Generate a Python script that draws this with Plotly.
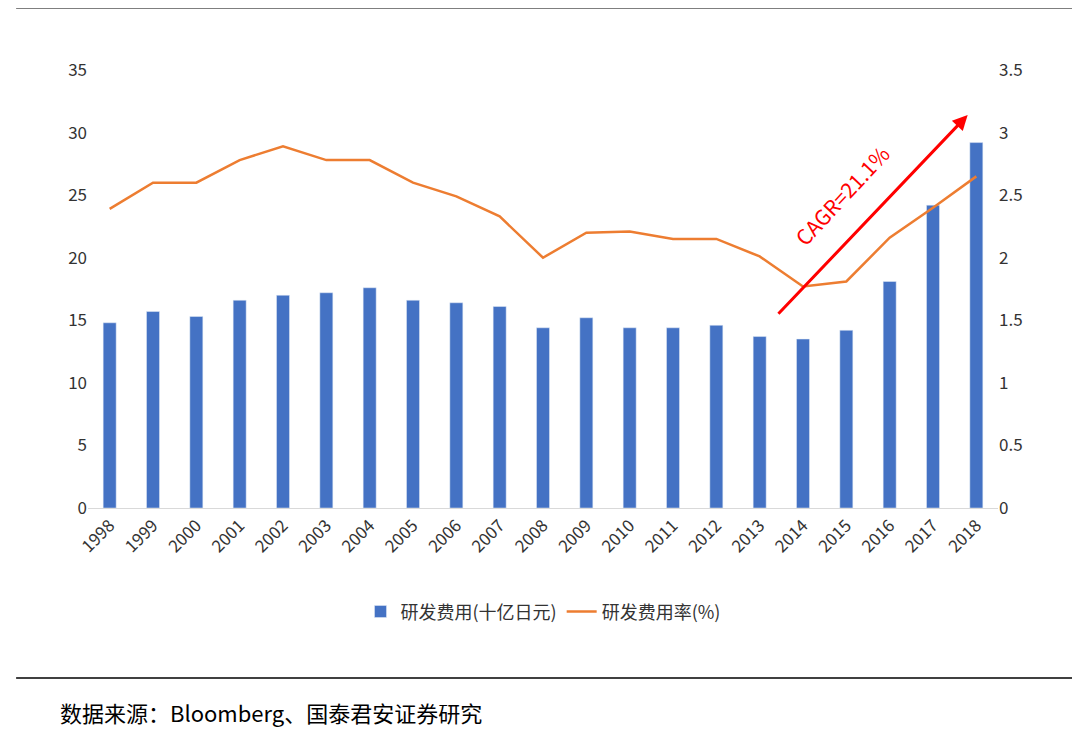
import plotly.graph_objects as go

years = list(range(1998, 2019))
rd_spend = [14.8, 15.7, 15.3, 16.6, 17.0, 17.2, 17.6, 16.6, 16.4, 16.1, 14.4, 15.2, 14.4, 14.4, 14.6, 13.7, 13.5, 14.2, 18.1, 24.2, 29.2]
rd_ratio = [2.39, 2.6, 2.6, 2.78, 2.89, 2.78, 2.78, 2.6, 2.49, 2.33, 2.0, 2.2, 2.21, 2.15, 2.15, 2.01, 1.77, 1.81, 2.16, 2.4, 2.65]
left_ticks = [0, 5, 10, 15, 20, 25, 30, 35]
right_ticks = [0, 0.5, 1, 1.5, 2, 2.5, 3, 3.5]
right_labels = ["0", "0.5", "1", "1.5", "2", "2.5", "3", "3.5"]

F = "Noto Sans CJK SC"
fig = go.Figure()
fig.add_trace(go.Bar(x=years, y=rd_spend, name="研发费用(十亿日元)", marker_color="#4472C4", width=0.3))
fig.add_trace(go.Scatter(x=years, y=rd_ratio, name="研发费用率(%)", yaxis="y2", mode="lines",
                         line=dict(color="#ED7D31", width=2.5)))
fig.update_layout(
    width=1080, height=729, paper_bgcolor="white", plot_bgcolor="white",
    margin=dict(l=80, r=90, t=62, b=229),
    font=dict(family=F, size=17, color="#333"),
    xaxis=dict(tickmode="array", tickvals=years, ticktext=[str(y) for y in years], tickangle=-45,
               range=[1997.5, 2018.5], showline=True, linecolor="#d9d9d9", ticks=""),
    yaxis=dict(range=[0, 35], tickvals=left_ticks, showgrid=False, zeroline=False),
    yaxis2=dict(range=[0, 3.5], tickvals=right_ticks, ticktext=right_labels, overlaying="y", side="right",
                showgrid=False, zeroline=False),
    legend=dict(orientation="h", x=0.5, xanchor="center", y=-0.237, yanchor="middle", font=dict(size=18)),
    bargap=0.5,
)
fig.add_annotation(x=2017.8, y=31.4, ax=2013.4, ay=15.4, xref="x", yref="y", axref="x", ayref="y",
                   showarrow=True, arrowhead=2, arrowsize=1, arrowwidth=3, arrowcolor="#FF0000", text="")
fig.add_annotation(x=2014.9, y=25.0, xref="x", yref="y", text="CAGR=21.1%", showarrow=False,
                   textangle=-47, font=dict(color="#FF0000", size=21))
fig.add_shape(type="line", xref="paper", yref="paper", x0=-0.079, x1=1.098, y0=1.142, y1=1.142,
              line=dict(color="black", width=1.5))
fig.add_shape(type="line", xref="paper", yref="paper", x0=-0.079, x1=1.098, y0=-0.388, y1=-0.388,
              line=dict(color="black", width=1.5))
fig.add_annotation(x=-0.033, xanchor="left", y=-0.466, yanchor="middle", xref="paper", yref="paper",
                   text="数据来源：Bloomberg、国泰君安证券研究", showarrow=False,
                   font=dict(size=22, color="black", family="Noto Sans CJK SC"))
fig.write_html("out.html")
